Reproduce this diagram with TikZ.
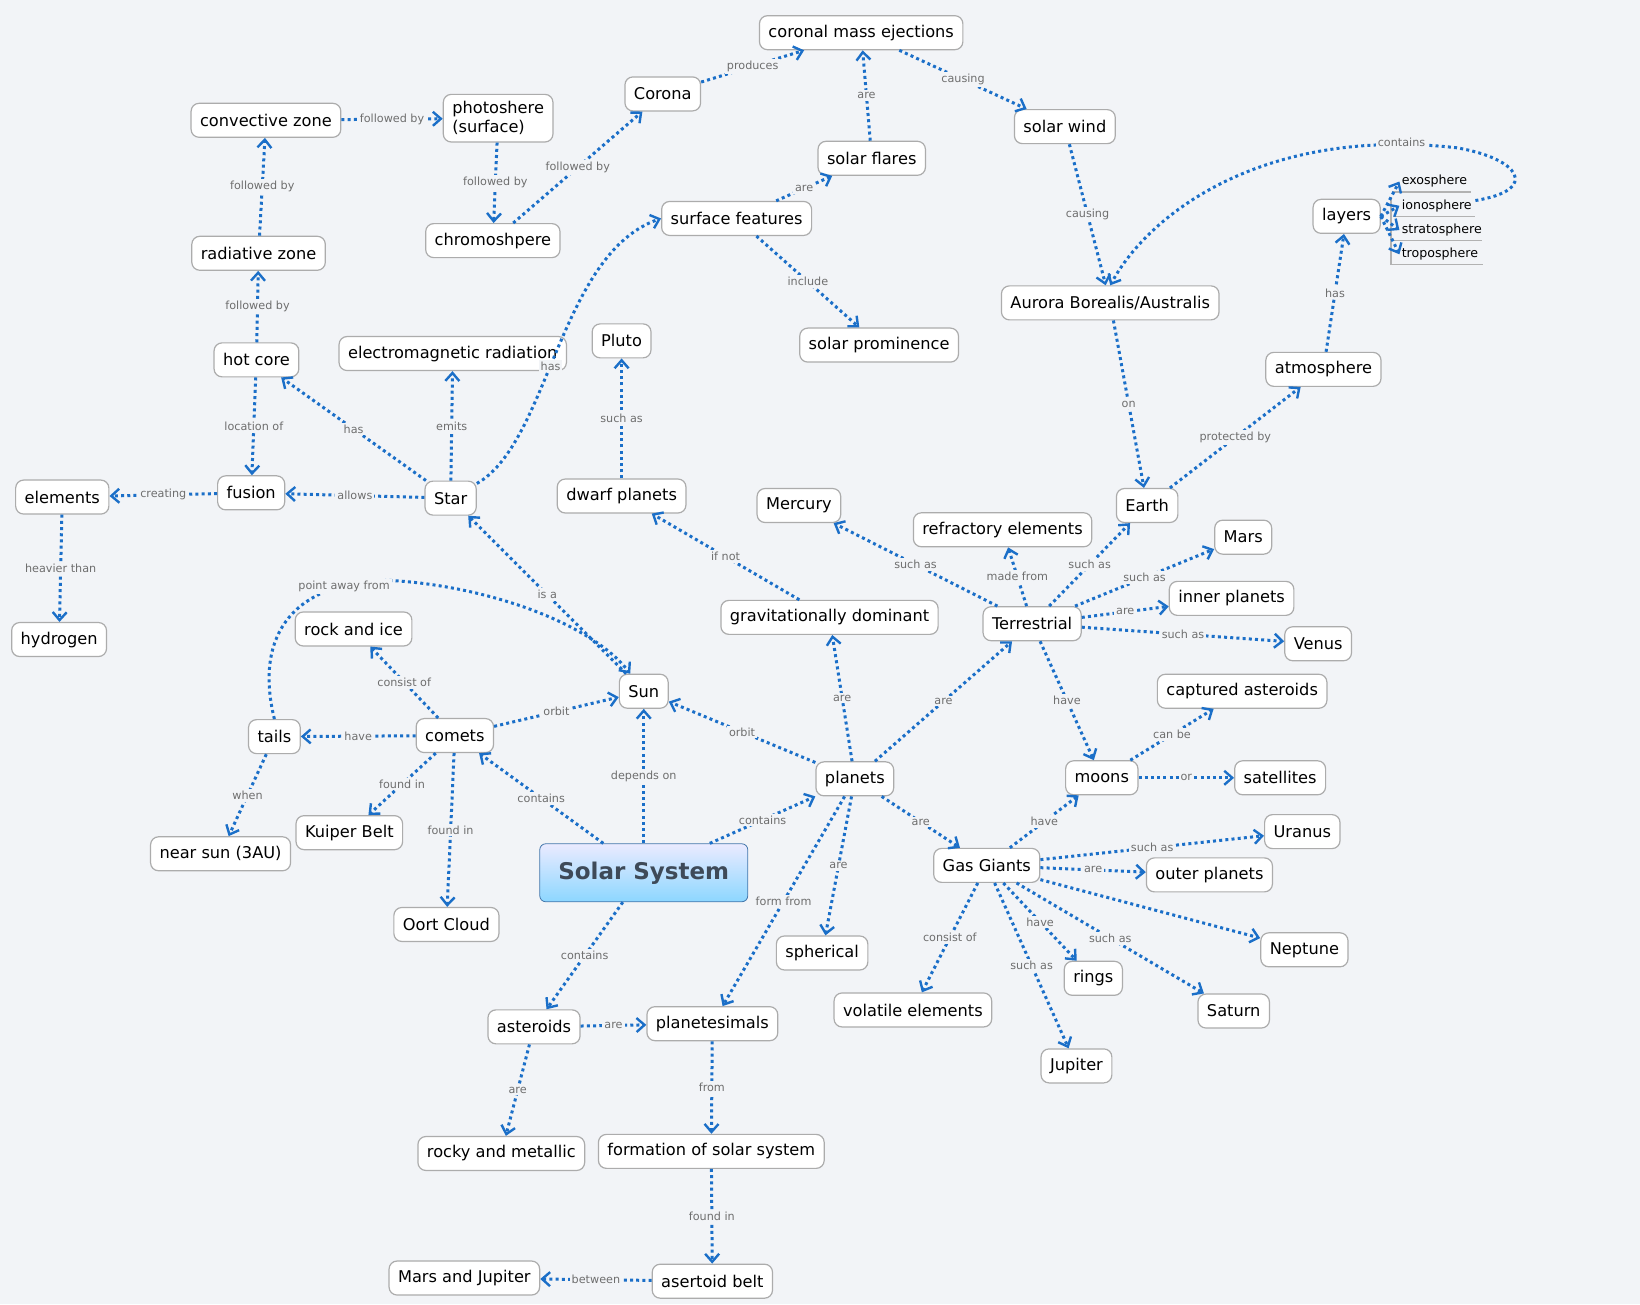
\documentclass[tikz,border=0pt]{standalone}
\usepackage{fontspec}
\setmainfont{DejaVu Sans}
\usetikzlibrary{arrows.meta,shadings}
\definecolor{bg}{HTML}{F2F4F7}
\definecolor{eblue}{HTML}{1B6FC8}
\definecolor{lblgray}{HTML}{6E6E6E}
\definecolor{sstext}{HTML}{3E4A58}
\tikzset{
 nd/.style={draw=gray!65,fill=white,rounded corners=4pt,font=\fontsize{8.1}{9.6}\selectfont,inner xsep=4.5pt,inner ysep=3.5pt,minimum height=17pt,line width=0.6pt},
 li/.style={font=\fontsize{6.3}{8}\selectfont,inner sep=1pt,anchor=west},
 ed/.style={draw=eblue,line width=1.5pt,dash pattern=on 1.5pt off 1.6pt,-{Straight Barb[length=4pt,width=7pt,line width=1.2pt]}},
 lb/.style={fill=bg,font=\fontsize{5.6}{7}\selectfont,text=lblgray,inner sep=1pt},
}
\begin{document}
\begin{tikzpicture}[x=0.5277pt,y=-0.5277pt]
\fill[bg] (0,0) rectangle (1554,1236);
\useasboundingbox (0,0) rectangle (1554,1236);
% nodes
\node[nd] (cme) at (816,31) {coronal mass ejections};
\node[nd] (corona) at (628,89) {Corona};
\node[nd] (conv) at (252,114) {convective zone};
\node[nd,align=left] (photo) at (472,112) {photoshere\\(surface)};
\node[nd] (wind) at (1009,120) {solar wind};
\node[nd] (flares) at (826,150) {solar flares};
\node[nd] (surf) at (698,207) {surface features};
\node[nd] (chrom) at (467,228) {chromoshpere};
\node[nd] (rad) at (245,240) {radiative zone};
\node[nd] (layers) at (1276,205) {layers};
\node[nd] (aurora) at (1052,287) {Aurora Borealis/Australis};
\node[nd] (prom) at (833,327) {solar prominence};
\node[nd] (pluto) at (589,323) {Pluto};
\node[nd] (emr) at (429,335) {electromagnetic radiation};
\node[nd] (core) at (243,341) {hot core};
\node[nd] (atmo) at (1254,350) {atmosphere};
\node[nd] (elem) at (59,471) {elements};
\node[nd] (fusion) at (238,467) {fusion};
\node[nd] (star) at (427,472) {Star};
\node[nd] (dwarf) at (589,470) {dwarf planets};
\node[nd] (merc) at (757,479) {Mercury};
\node[nd] (refr) at (950,502) {refractory elements};
\node[nd] (earth) at (1087,479) {Earth};
\node[nd] (mars) at (1178,509) {Mars};
\node[nd] (inner) at (1167,567) {inner planets};
\node[nd] (grav) at (786,585) {gravitationally dominant};
\node[nd] (terr) at (978,591) {Terrestrial};
\node[nd] (venus) at (1249,610) {Venus};
\node[nd] (hydro) at (56,606) {hydrogen};
\node[nd] (rock) at (335,596) {rock and ice};
\node[nd] (sun) at (610,655) {Sun};
\node[nd] (capt) at (1177,655) {captured asteroids};
\node[nd] (tails) at (260,698) {tails};
\node[nd] (comets) at (431,697) {comets};
\node[nd] (moons) at (1044,737) {moons};
\node[nd] (sat) at (1213,737) {satellites};
\node[nd] (planets) at (810,738) {planets};
\node[nd] (uranus) at (1234,788) {Uranus};
\node[nd] (kuiper) at (331,789) {Kuiper Belt};
\node[nd] (near) at (209,809) {near sun (3AU)};
\node[nd] (gas) at (935,820) {Gas Giants};
\node[nd] (outer) at (1146,829) {outer planets};
\node[draw=eblue!60!gray,rounded corners=3pt,top color=blue!8,bottom color=blue!35!cyan!45,minimum width=104pt,minimum height=29pt,font=\bfseries\fontsize{11.5}{14}\selectfont,text=sstext] (ss) at (610,827) {Solar System};
\node[nd] (oort) at (423,876) {Oort Cloud};
\node[nd] (sph) at (779,903) {spherical};
\node[nd] (nept) at (1236,900) {Neptune};
\node[nd] (rings) at (1036,927) {rings};
\node[nd] (vol) at (865,957) {volatile elements};
\node[nd] (saturn) at (1169,958) {Saturn};
\node[nd] (ast) at (506,973) {asteroids};
\node[nd] (ptsm) at (675,970) {planetesimals};
\node[nd] (jup) at (1020,1010) {Jupiter};
\node[nd] (rocky) at (475,1093) {rocky and metallic};
\node[nd] (form) at (674,1091) {formation of solar system};
\node[nd] (mj) at (440,1211) {Mars and Jupiter};
\node[nd] (belt) at (675,1214) {asertoid belt};
% layer list
\node[li] (exo) at (1326,172) {exosphere};
\node[li] (iono) at (1326,195) {ionosphere};
\node[li] (strat) at (1326,218) {stratosphere};
\node[li] (trop) at (1326,241) {troposphere};
\draw[gray!60,line width=0.6pt] (1320,182)--(1394,182) (1320,205)--(1398,205) (1320,228)--(1404,228) (1318,187)--(1318,251)--(1405,251);
\foreach \t in {exo,iono,strat,trop}{\draw[ed] (layers.east) -- (\t.west);}
% edges
\def\E#1#2#3{\draw[ed] (#1) -- node[lb]{#3} (#2);}
\E{corona}{cme}{produces}
\E{flares}{cme}{are}
\E{cme}{wind}{causing}
\E{conv}{photo}{followed by}
\E{photo}{chrom}{followed by}
\E{chrom}{corona}{followed by}
\E{rad}{conv}{followed by}
\E{core}{rad}{followed by}
\E{surf}{flares}{are}
\E{surf}{prom}{include}
\E{wind}{aurora}{causing}
\E{aurora}{earth}{on}
\E{earth}{atmo}{protected by}
\E{atmo}{layers}{has}
\E{star}{core}{has}
\E{star}{emr}{emits}
\E{star}{fusion}{allows}
\E{core}{fusion}{location of}
\E{fusion}{elem}{creating}
\E{elem}{hydro}{heavier than}
\E{dwarf}{pluto}{such as}
\E{grav}{dwarf}{if not}
\E{terr}{merc}{such as}
\E{terr}{refr}{made from}
\E{terr}{earth}{such as}
\E{terr}{mars}{such as}
\E{terr}{inner}{are}
\E{terr}{venus}{such as}
\E{terr}{moons}{have}
\E{sun}{star}{is a}
\E{comets}{rock}{consist of}
\E{comets}{sun}{orbit}
\E{comets}{tails}{have}
\E{tails}{near}{when}
\E{comets}{kuiper}{found in}
\E{comets}{oort}{found in}
\E{ss}{comets}{contains}
\E{ss}{sun}{depends on}
\E{ss}{planets}{contains}
\E{ss}{ast}{contains}
\E{planets}{sun}{orbit}
\E{planets}{grav}{are}
\E{planets}{terr}{are}
\E{planets}{gas}{are}
\E{planets}{sph}{are}
\E{planets}{ptsm}{form from}
\E{moons}{capt}{can be}
\E{moons}{sat}{or}
\E{gas}{moons}{have}
\E{gas}{uranus}{such as}
\E{gas}{outer}{are}
\draw[ed] (gas) -- (nept);
\E{gas}{saturn}{such as}
\E{gas}{rings}{have}
\E{gas}{jup}{such as}
\E{gas}{vol}{consist of}
\E{ast}{ptsm}{are}
\E{ast}{rocky}{are}
\E{ptsm}{form}{from}
\E{form}{belt}{found in}
\E{belt}{mj}{between}
% curves
\draw[ed] (star) .. controls (520,420) and (530,240) .. node[lb,pos=0.45]{has} (surf.west);
\draw[ed] (tails.north) .. controls (240,600) and (280,550) .. (370,550) .. controls (460,555) and (560,590) .. (sun);
\node[lb] at (326,556) {point away from};
\coordinate (cst) at (1398,190);
\draw[ed] (cst) .. controls (1460,180) and (1440,150) .. (1380,140) .. controls (1200,120) and (1090,200) .. (aurora.north);
\node[lb] at (1328,135) {contains};
\end{tikzpicture}
\end{document}
